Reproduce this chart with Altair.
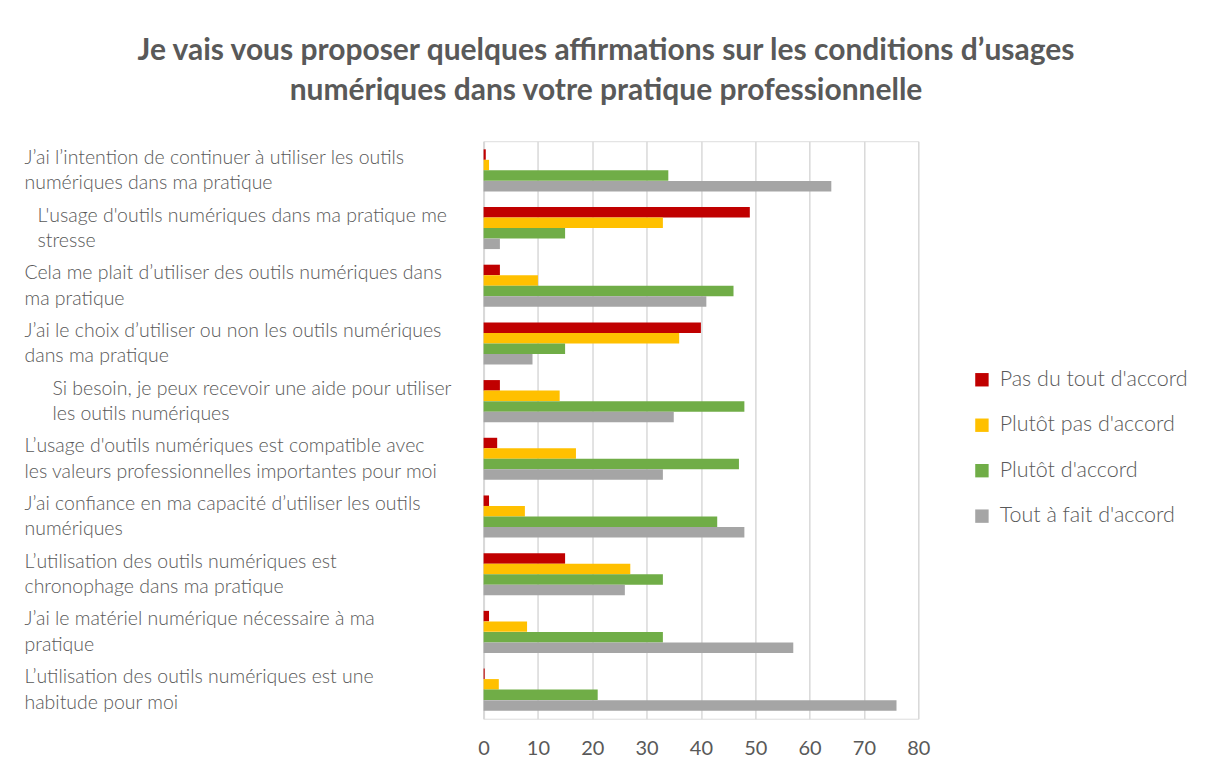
import altair as alt
import pandas as pd

statements = [
    "J’ai l’intention de continuer à utiliser les outils\nnumériques dans ma pratique",
    "L'usage d'outils numériques dans ma pratique me\nstresse",
    "Cela me plait d’utiliser des outils numériques dans\nma pratique",
    "J’ai le choix d’utiliser ou non les outils numériques\ndans ma pratique",
    "Si besoin, je peux recevoir une aide pour utiliser\nles outils numériques",
    "L’usage d'outils numériques est compatible avec\nles valeurs professionnelles importantes pour moi",
    "J’ai confiance en ma capacité d’utiliser les outils\nnumériques",
    "L’utilisation des outils numériques est\nchronophage dans ma pratique",
    "J’ai le matériel numérique nécessaire à ma\npratique",
    "L’utilisation des outils numériques est une\nhabitude pour moi",
]
series = ["Pas du tout d'accord", "Plutôt pas d'accord", "Plutôt d'accord", "Tout à fait d'accord"]
colors = ["#C00000", "#FFC000", "#70AD47", "#A5A5A5"]

pas_du_tout = [0.4, 49, 3, 40, 3, 2.5, 1, 15, 1, 0.2]
plutot_pas = [1, 33, 10, 36, 14, 17, 7.6, 27, 8, 2.8]
plutot = [34, 15, 46, 15, 48, 47, 43, 33, 33, 21]
tout_a_fait = [64, 3, 41, 9, 35, 33, 48, 26, 57, 76]

rows = []
for vals, s in zip([pas_du_tout, plutot_pas, plutot, tout_a_fait], series):
    for st, v in zip(statements, vals):
        rows.append({"statement": st, "series": s, "value": v})
df = pd.DataFrame(rows)

TXT = "#595959"
FONT = "Lato"

pad_cond = {
    "condition": [
        {"test": "indexof(datum.value, 'stresse') >= 0", "value": 447},
        {"test": "indexof(datum.value, 'Si besoin') >= 0", "value": 432},
    ],
    "value": 460,
}

bars = alt.Chart(df).mark_bar(size=10.5).encode(
    y=alt.Y(
        "statement:N",
        sort=statements,
        title=None,
        scale=alt.Scale(paddingInner=0.27, paddingOuter=0.14),
        axis=alt.Axis(
            labelExpr="split(datum.label, '\\n')",
            labelAlign="left",
            labelBaseline="middle",
            labelOffset=-12.5,
            labelPadding=pad_cond,
            labelLimit=0,
            labelFontSize=19.5,
            labelFontWeight=300,
            labelLineHeight=25.5,
            labelColor=TXT,
            labelFont=FONT,
            ticks=False,
            domainColor="#d9d9d9",
            domainWidth=2,
            grid=False,
        ),
    ),
    yOffset=alt.YOffset("series:N", sort=series),
    x=alt.X(
        "value:Q",
        title=None,
        scale=alt.Scale(domain=[0, 80]),
        axis=alt.Axis(
            values=[0, 10, 20, 30, 40, 50, 60, 70, 80],
            grid=True,
            gridColor="#d9d9d9",
            gridWidth=1.5,
            domain=False,
            ticks=False,
            labelFlush=False,
            labelFontSize=20,
            labelColor=TXT,
            labelFont=FONT,
            labelPadding=20,
        ),
    ),
    color=alt.Color(
        "series:N",
        sort=series,
        scale=alt.Scale(domain=series, range=colors),
        legend=alt.Legend(
            title=None,
            orient="none",
            legendX=488,
            legendY=228,
            symbolType="square",
            symbolSize=180,
            symbolStrokeWidth=0,
            labelFontSize=21.5,
            labelFontWeight=300,
            labelLimit=0,
            labelColor=TXT,
            labelFont=FONT,
            rowPadding=22.5,
            labelOffset=7,
        ),
    ),
)

chart = bars.properties(
    width=435,
    height=578,
    title=alt.TitleParams(
        text=[
            "Je vais vous proposer quelques affirmations sur les conditions d’usages",
            "numériques dans votre pratique professionnelle",
        ],
        fontSize=30,
        font=FONT,
        fontWeight="bold",
        color=TXT,
        anchor="middle",
        frame="bounds",
        lineHeight=40,
        offset=35,
    ),
    padding={"left": 16, "top": 28, "right": 10, "bottom": 10},
).configure_view(stroke=None).configure(background="white")

chart.save("out.html", embed_options={"renderer": "svg", "actions": False})
